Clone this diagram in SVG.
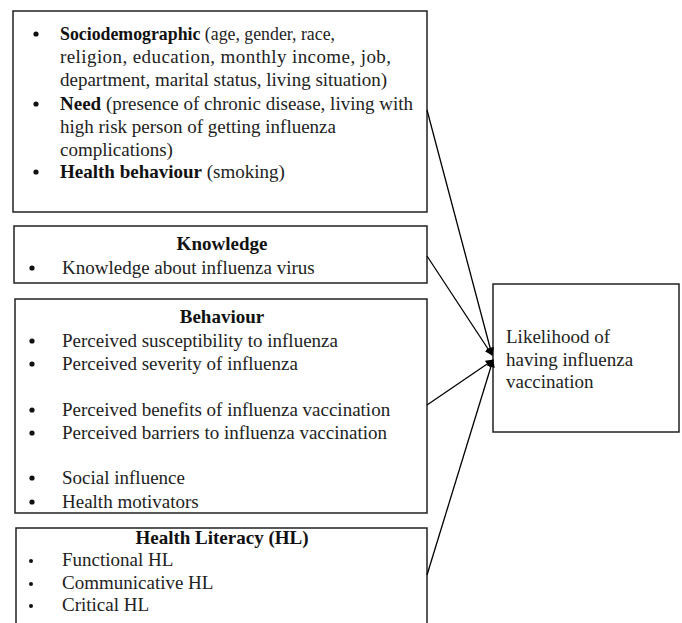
<svg xmlns="http://www.w3.org/2000/svg" width="682" height="623" viewBox="0 0 682 623">
<defs>
<style>
.box{fill:#fff;stroke:#222;stroke-width:1.5}
text{font-family:"Liberation Serif","Times New Roman",serif;font-size:19px;fill:#222}
.b{font-weight:bold;fill:#111}
.h{font-weight:bold;fill:#111;text-anchor:middle}
.bul{fill:#111}
.conn{stroke:#000;stroke-width:1.3;fill:none;marker-end:url(#ah)}
</style>
<marker id="ah" viewBox="0 0 10 10" refX="9" refY="5" markerWidth="8" markerHeight="8" markerUnits="userSpaceOnUse" orient="auto">
<path d="M0,0 L10,5 L0,10 z" fill="#000"/>
</marker>
</defs>
<rect width="682" height="623" fill="#fff"/>
<g id="node-sociodemographic">
<rect class="box" x="13" y="11" width="414" height="201"/>
<circle class="bul" cx="36" cy="34" r="2.6"/>
<circle class="bul" cx="36" cy="104" r="2.6"/>
<circle class="bul" cx="36" cy="172" r="2.6"/>
<text x="60" y="40" textLength="275" lengthAdjust="spacingAndGlyphs"><tspan class="b">Sociodemographic</tspan> (age, gender, race,</text>
<text x="60" y="63" textLength="331">religion, education, monthly income, job,</text>
<text x="60" y="86">department, marital status, living situation)</text>
<text x="60" y="110"><tspan class="b">Need</tspan> (presence of chronic disease, living with</text>
<text x="60" y="133">high risk person of getting influenza</text>
<text x="60" y="156">complications)</text>
<text x="60" y="178"><tspan class="b">Health behaviour</tspan> (smoking)</text>
</g>
<g id="node-knowledge">
<rect class="box" x="14" y="226" width="413" height="57"/>
<text class="h" x="222" y="250">Knowledge</text>
<circle class="bul" cx="32" cy="268" r="2.6"/>
<text x="62" y="274">Knowledge about influenza virus</text>
</g>
<g id="node-behaviour">
<rect class="box" x="15" y="299" width="412" height="214"/>
<text class="h" x="222" y="323">Behaviour</text>
<circle class="bul" cx="32" cy="341" r="2.6"/>
<circle class="bul" cx="32" cy="364" r="2.6"/>
<circle class="bul" cx="32" cy="410" r="2.6"/>
<circle class="bul" cx="32" cy="433" r="2.6"/>
<circle class="bul" cx="32" cy="478" r="2.6"/>
<circle class="bul" cx="32" cy="502" r="2.6"/>
<text x="62" y="347">Perceived susceptibility to influenza</text>
<text x="62" y="370">Perceived severity of influenza</text>
<text x="62" y="416">Perceived benefits of influenza vaccination</text>
<text x="62" y="439">Perceived barriers to influenza vaccination</text>
<text x="62" y="484">Social influence</text>
<text x="62" y="508">Health motivators</text>
</g>
<g id="node-health-literacy">
<path class="box" d="M16,626 V528 H427 V626"/>
<text class="h" x="222" y="544">Health Literacy (HL)</text>
<circle class="bul" cx="31" cy="561" r="2"/>
<circle class="bul" cx="31" cy="584" r="2"/>
<circle class="bul" cx="31" cy="606" r="2"/>
<text x="62" y="566">Functional HL</text>
<text x="62" y="589">Communicative HL</text>
<text x="62" y="611">Critical HL</text>
</g>
<g id="node-likelihood">
<rect class="box" x="493" y="284" width="186" height="148"/>
<text x="506" y="343">Likelihood of</text>
<text x="506" y="366">having influenza</text>
<text x="506" y="388">vaccination</text>
</g>
<g id="connectors">
<line class="conn" x1="427" y1="110" x2="492" y2="355"/>
<line class="conn" x1="427" y1="256" x2="492" y2="355"/>
<line class="conn" x1="427" y1="405" x2="493" y2="360"/>
<line class="conn" x1="427" y1="575" x2="493" y2="360"/>
</g>
</svg>
